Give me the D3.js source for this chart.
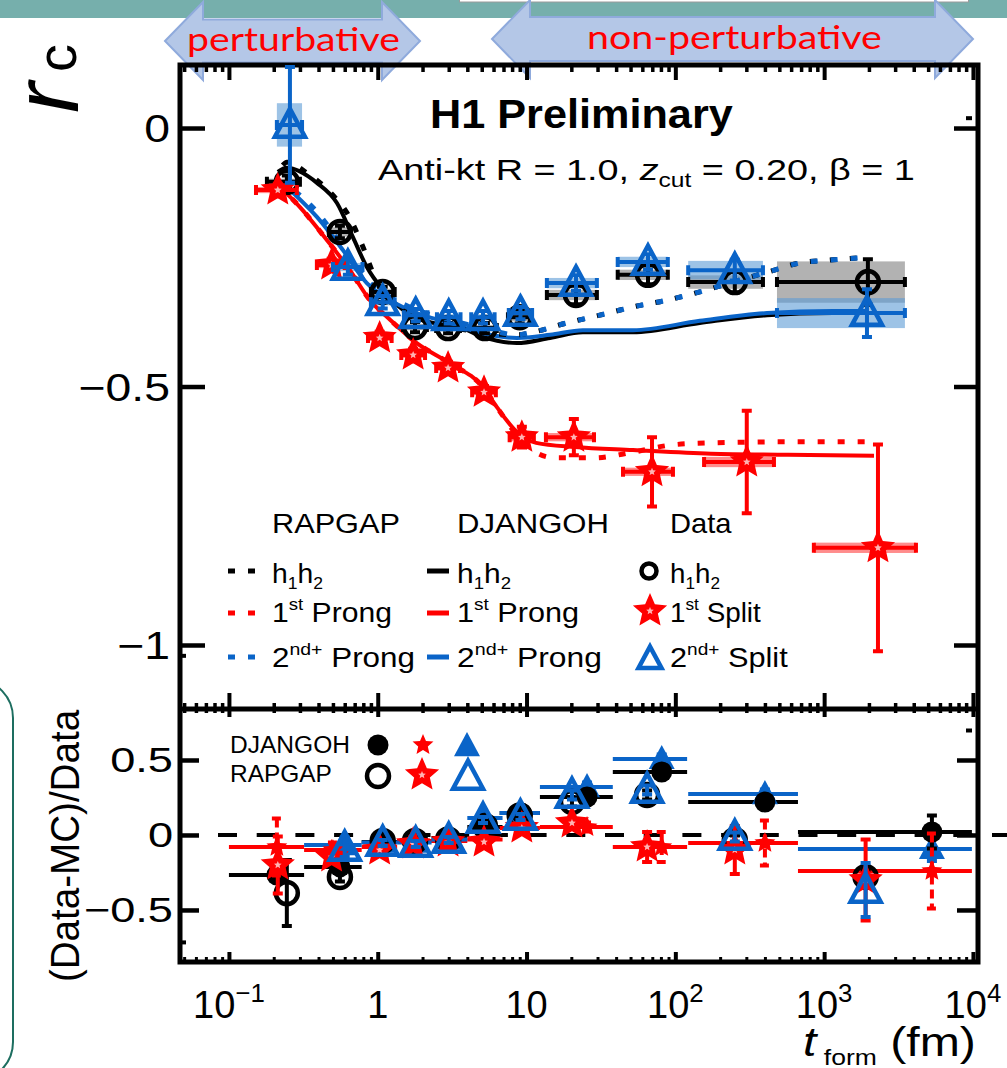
<!DOCTYPE html>
<html>
<head>
<meta charset="utf-8">
<script src="https://cdn.jsdelivr.net/npm/d3@7"></script>
<style>
  body { margin: 0; background: #fff; }
  svg { display: block; }
  text { font-family: "Liberation Sans", Arial, Helvetica, sans-serif; fill: #000; }
</style>
</head>
<body>
<svg id="chart" width="1007" height="1068"></svg>
<script>
// ---------- axis ticks ----------
const tickX = [0.1, 1, 10, 100, 1000, 10000];
const tickXBase = ['10', '1', '10', '10', '10', '10'];
const tickXExp = ['\u22121', '', '', '2', '3', '4'];
const tickYTop = [0, -0.5, -1];
const tickYTopText = ['0', '\u22120.5', '\u22121'];
const tickYBot = [0.5, 0, -0.5];
const tickYBotText = ['0.5', '0', '\u22120.5'];
// stray short ticks seen on the frame
const stubTopL = [-1.02], stubTopR = [0.02], stubBotL = [-0.713], stubBotR = [0.7];

// ---------- top panel: data (r_c vs t_form) ----------
// h1h2
const hT    = [0.245, 0.557, 1.08, 1.78, 2.97, 5.25, 9.0, 21.5, 65.5, 251, 1968];
const hV    = [-0.104, -0.201, -0.317, -0.385, -0.387, -0.387, -0.366, -0.323, -0.284, -0.298, -0.298];
const hLo   = [0.18, 0.47, 0.90, 1.48, 2.47, 4.37, 7.5, 13.7, 41, 122, 482];
const hHi   = [0.30, 0.66, 1.30, 2.14, 3.57, 6.31, 10.8, 29.7, 89, 388, 3490];
const hStat = [0.012, 0.012, 0.01, 0.01, 0.01, 0.01, 0.012, 0.018, 0.018, 0.02, 0.044];
const hSys  = [0.006, 0.009, 0.006, 0.006, 0.006, 0.006, 0.008, 0.01, 0.01, 0.013, 0.04];
// 1st split
const fT    = [0.213, 0.49, 1.03, 1.73, 2.97, 5.18, 9.3, 20.8, 69.7, 302, 2300];
const fV    = [-0.120, -0.265, -0.406, -0.439, -0.464, -0.511, -0.598, -0.598, -0.665, -0.646, -0.812];
const fLo   = [0.152, 0.39, 0.86, 1.44, 2.47, 4.31, 7.7, 13.5, 44.5, 156, 853];
const fHi   = [0.286, 0.60, 1.24, 2.08, 3.57, 6.22, 11.2, 28.4, 96.4, 460, 4140];
const fStat = [0.012, 0.012, 0.012, 0.012, 0.012, 0.012, 0.02, 0.035, 0.067, 0.099, 0.2];
const fSys  = [0.006, 0.006, 0.006, 0.006, 0.006, 0.006, 0.008, 0.008, 0.008, 0.01, 0.01];
// 2nd+ split
const sT    = [0.257, 0.63, 1.08, 1.80, 3.0, 5.1, 9.1, 21.5, 65.5, 251, 1940];
const sV    = [0.006, -0.269, -0.337, -0.362, -0.366, -0.366, -0.358, -0.300, -0.259, -0.275, -0.358];
const sLo   = [0.21, 0.50, 0.90, 1.50, 2.50, 4.25, 7.6, 13.7, 41, 122, 482];
const sHi   = [0.31, 0.79, 1.30, 2.16, 3.6, 6.1, 10.9, 29.7, 89, 388, 3490];
const sStat = [0.112, 0.015, 0.012, 0.012, 0.012, 0.012, 0.012, 0.015, 0.015, 0.02, 0.046];
const sSys  = [0.042, 0.008, 0.006, 0.006, 0.006, 0.006, 0.008, 0.01, 0.01, 0.018, 0.029];

// ---------- top panel: MC curves [t, r_c] ----------
const rapH = [[0.23,-0.072],[0.245,-0.066],[0.334,-0.087],[0.50,-0.130],[0.621,-0.164],[0.796,-0.230],[0.929,-0.280],[1.08,-0.319],[1.83,-0.366],[3.05,-0.385],[5.09,-0.395],[8.61,-0.400],[11.0,-0.395],[18.7,-0.377],[31.1,-0.362],[51.9,-0.346],[87.9,-0.333],[146,-0.317],[244,-0.298],[413,-0.279],[687,-0.261],[1146,-0.255],[1941,-0.250]];
const rap1 = [[0.213,-0.110],[0.300,-0.153],[0.456,-0.217],[0.650,-0.275],[0.887,-0.333],[1.21,-0.371],[1.83,-0.416],[3.05,-0.455],[5.09,-0.501],[6.32,-0.540],[8.61,-0.594],[10.2,-0.617],[15.5,-0.638],[28.4,-0.638],[51.9,-0.627],[94.8,-0.613],[173,-0.609],[571,-0.607],[2032,-0.607]];
const rap2 = [[0.245,-0.110],[0.390,-0.162],[0.583,-0.230],[0.887,-0.300],[1.21,-0.327],[1.83,-0.352],[3.05,-0.371],[5.09,-0.387],[8.61,-0.400],[11.0,-0.395],[18.7,-0.377],[31.1,-0.362],[51.9,-0.346],[87.9,-0.333],[146,-0.317],[244,-0.298],[413,-0.279],[687,-0.261],[1146,-0.255],[1941,-0.250]];
const djH  = [[0.213,-0.085],[0.245,-0.077],[0.390,-0.106],[0.532,-0.145],[0.681,-0.211],[0.845,-0.269],[1.08,-0.313],[1.48,-0.352],[2.35,-0.377],[3.56,-0.385],[5.09,-0.404],[8.61,-0.416],[14.4,-0.406],[23.9,-0.395],[51.9,-0.395],[146,-0.377],[413,-0.362],[1146,-0.358],[1941,-0.358]];
const dj1  = [[0.213,-0.110],[0.300,-0.153],[0.456,-0.217],[0.650,-0.275],[0.887,-0.333],[1.21,-0.371],[1.83,-0.416],[3.05,-0.455],[5.09,-0.501],[6.32,-0.540],[8.61,-0.588],[11.6,-0.609],[21.1,-0.617],[51.9,-0.623],[173,-0.630],[571,-0.632],[2163,-0.634]];
const dj2  = [[0.245,-0.114],[0.390,-0.172],[0.583,-0.236],[0.845,-0.300],[1.21,-0.333],[1.83,-0.358],[3.05,-0.377],[5.09,-0.397],[8.61,-0.406],[14.4,-0.400],[23.9,-0.391],[51.9,-0.391],[146,-0.373],[413,-0.358],[1146,-0.354],[1941,-0.354]];

// ---------- bottom panel: (Data-MC)/Data ----------
const binLo = [0.10, 0.32, 0.78, 1.35, 2.3, 4.0, 6.6, 12.3, 38, 122, 667];
const binHi = [0.32, 0.78, 1.35, 2.3, 4.0, 6.9, 12.3, 38, 120, 667, 9840];
// DJANGOH (filled markers, carry the bin bars)
const djHT = [0.21, 0.557, 1.06, 1.78, 2.97, 5.2, 9.2, 25.5, 81, 400, 5300];
const djHR = [-0.267, -0.213, -0.047, -0.04, -0.02, 0.053, 0.147, 0.253, 0.42, 0.22, 0.02];
const djHE = [0.03, 0.03, 0.02, 0.02, 0.02, 0.02, 0.03, 0.03, 0.03, 0.03, 0.11];
const dj1T = [0.21, 0.5, 1.03, 1.73, 2.97, 5.18, 9.3, 25.5, 81, 400, 5300];
const dj1R = [-0.08, -0.1, -0.08, -0.04, -0.04, -0.03, 0.047, 0.053, -0.08, -0.053, -0.24];
const dj1E = [0.19, 0.05, 0.03, 0.03, 0.03, 0.03, 0.03, 0.03, 0.1, 0.15, 0.25];
const dj2T = [0.6, 1.08, 1.8, 3.0, 5.1, 9.1, 25.5, 81, 400, 5300];
const dj2R = [-0.067, -0.05, -0.05, -0.03, 0.113, 0.147, 0.32, 0.507, 0.273, -0.093];
const dj2E = [0.05, 0.02, 0.02, 0.02, 0.02, 0.02, 0.03, 0.03, 0.03, 0.08];
const dj2Lo = [0.32, 0.78, 1.35, 2.3, 4.0, 6.6, 12.3, 38, 122, 667];
const dj2Hi = [0.78, 1.35, 2.3, 4.0, 6.9, 12.3, 38, 120, 667, 9840];
// RAPGAP (open markers)
const rpHT = [0.245, 0.557, 1.08, 1.78, 2.97, 5.25, 9.0, 20.2, 64.6, 251, 1900];
const rpHR = [-0.387, -0.28, -0.04, -0.04, -0.03, 0.06, 0.13, 0.22, 0.267, -0.033, -0.28];
const rpHE = [0.22, 0.03, 0.02, 0.02, 0.02, 0.02, 0.03, 0.03, 0.03, 0.03, 0.05];
const rp1T = [0.213, 0.49, 1.03, 1.73, 2.97, 5.18, 9.3, 20.2, 64.6, 251, 1900];
const rp1R = [-0.2, -0.147, -0.1, -0.06, -0.047, -0.047, 0.047, 0.08, -0.08, -0.1, -0.3];
const rp1E = [0.19, 0.04, 0.03, 0.03, 0.03, 0.03, 0.03, 0.03, 0.1, 0.16, 0.27];
const rp2T = [0.6, 1.08, 1.8, 3.0, 5.1, 9.1, 20.2, 64.6, 251, 1900];
const rp2R = [-0.087, -0.053, -0.06, -0.033, 0.1, 0.12, 0.267, 0.3, -0.013, -0.367];
const rp2E = [0.06, 0.02, 0.02, 0.02, 0.02, 0.02, 0.03, 0.03, 0.03, 0.18];

// ---------- colours ----------
const BLACK = '#000', RED = '#ff0000', BLUE = '#0a64c8';

// ---------- layout ----------
const L = 180, R = 978, T = 65, MID = 709, B = 962;
const svg = d3.select('#chart');

const x = d3.scaleLog().domain([0.0469, 10814]).range([L, R]);
const yTop = d3.scaleLinear().domain([0.1219, -1.1238]).range([T, MID]);
const yBot = d3.scaleLinear().domain([0.84, -0.847]).range([MID, B]);

// ---------- helpers ----------
function starPath(Ro) {
  const ri = Ro * 0.46;
  let p = '';
  for (let i = 0; i < 10; i++) {
    const a = -Math.PI / 2 + i * Math.PI / 5, rr = i % 2 ? ri : Ro;
    p += (i ? 'L' : 'M') + (rr * Math.cos(a)).toFixed(2) + ',' + (rr * Math.sin(a)).toFixed(2);
  }
  return p + 'Z';
}
function triPath(w) {
  const h = w * 0.93;
  return `M0,${(-h * 0.58).toFixed(2)}L${w / 2},${(h * 0.42).toFixed(2)}L${-w / 2},${(h * 0.42).toFixed(2)}Z`;
}
function marker(g, kind, cx, cy) {
  const m = g.append('g').attr('transform', `translate(${cx},${cy})`);
  if (kind === 'openCircle') m.append('circle').attr('r', 11).style('fill', 'none').style('stroke', BLACK).style('stroke-width', 4.5);
  if (kind === 'fillCircle') m.append('circle').attr('r', 10.5).style('fill', BLACK);
  if (kind === 'bigStar') {
    m.append('path').attr('d', starPath(18)).style('fill', RED);
    m.append('path').attr('d', starPath(4)).style('fill', '#ffb3b3');
  }
  if (kind === 'smallStar') m.append('path').attr('d', starPath(11)).style('fill', RED);
  if (kind === 'openTri') m.append('path').attr('d', triPath(30)).style('fill', 'none').style('stroke', BLUE).style('stroke-width', 4.5).style('stroke-linejoin', 'miter');
  if (kind === 'fillTri') m.append('path').attr('d', triPath(26)).style('fill', BLUE);
  return m;
}
function rich(parent, parts, size, weight) {
  const t = parent.append('text').attr('x', 0).attr('y', 0).style('font-size', size + 'px');
  if (weight) t.style('font-weight', weight);
  let cur = 0;
  parts.forEach(p => {
    const off = p.sup ? -0.42 * size : p.sub ? 0.22 * size : 0;
    const ts = t.append('tspan').attr('dy', off - cur).text(p.s);
    if (p.sup || p.sub) ts.style('font-size', ((p.k || 0.62) * size) + 'px');
    if (p.it) ts.style('font-style', 'italic');
    cur = off;
  });
  return t;
}
// place text: left/right/centre at x, baseline y, optional target width or x-scale
function place(t, xp, yp, w, anchor, sx) {
  const bb = t.node().getBBox();
  const s = w ? w / bb.width : (sx || 1);
  const left = anchor === 'end' ? xp - bb.width * s : anchor === 'middle' ? xp - bb.width * s / 2 : xp;
  t.attr('transform', `translate(${left - bb.x * s},${yp}) scale(${s},1)`);
  return t;
}

// ---------- slide decorations ----------
svg.append('rect').attr('x', 0).attr('y', 0).attr('width', 1007).attr('height', 18).style('fill', '#76afac');
svg.append('rect').attr('x', 459.5).attr('y', -6).attr('width', 509).attr('height', 8)
  .style('fill', '#fff').style('stroke', '#9a9a9a').style('stroke-width', 1);
svg.append('rect').attr('x', -60).attr('y', 680).attr('width', 73).attr('height', 400).attr('rx', 38)
  .style('fill', 'none').style('stroke', '#1d6e60').style('stroke-width', 2);

function arrow(x0, x1, x2, x3, yc, hs, hh) {
  const p = [[x0, yc], [x1, yc - hh], [x1, yc - hs], [x2, yc - hs], [x2, yc - hh], [x3, yc],
             [x2, yc + hh], [x2, yc + hs], [x1, yc + hs], [x1, yc + hh]];
  svg.append('path').attr('d', 'M' + p.map(d => d.join(',')).join('L') + 'Z')
    .style('fill', '#b4c7e7').style('stroke', '#8faadc').style('stroke-width', 2);
}
arrow(165, 203, 382, 420, 41, 21.5, 39);
arrow(492, 530, 935, 973, 39, 22, 39);

// ---------- frame + ticks ----------
const fr = svg.append('g');
const xMinor = x.ticks().filter(v => Math.abs(Math.log10(v) - Math.round(Math.log10(v))) > 1e-6);

function xTicks(yPos, vals, len, sw) {
  const g = fr.append('g').attr('transform', `translate(0,${yPos})`)
    .call(d3.axisBottom(x).tickValues(vals).tickSize(len).tickFormat(''));
  g.select('.domain').remove();
  g.selectAll('line').attr('stroke-width', sw);
}
function yTicks(scale, xPos, vals, len, sw) {
  const g = fr.append('g').attr('transform', `translate(${xPos},0)`)
    .call(d3.axisRight(scale).tickValues(vals).tickSize(len).tickFormat(''));
  g.select('.domain').remove();
  g.selectAll('line').attr('stroke-width', sw);
}
xTicks(T, tickX, 15, 4);  xTicks(T, xMinor, 7, 3.5);
xTicks(MID, tickX, -16, 4); xTicks(MID, tickX, 8, 4);
xTicks(MID, xMinor, -6, 3.5); xTicks(MID, xMinor, 4, 3.5);
xTicks(B, tickX, -10, 4); xTicks(B, xMinor, -5, 3);
yTicks(yTop, L, tickYTop, 25, 4.5);
yTicks(yTop, R, tickYTop, -24, 4.5);
yTicks(yBot, L, tickYBot, 19, 4.5);
yTicks(yBot, R, tickYBot, -21, 4.5);
yTicks(yTop, L, stubTopL, 6, 4);
yTicks(yTop, R - 6, stubTopR, -6, 4);
yTicks(yBot, L, stubBotL, 6, 4);
yTicks(yBot, R - 6, stubBotR, -6, 4);

fr.append('path').attr('d', `M${L},${T}H${R}V${B}H${L}Z M${L},${MID}H${R}`)
  .style('fill', 'none').style('stroke', '#000').style('stroke-width', 5);

// ---------- tick labels ----------
tickX.forEach((v, i) => {
  const parts = [{ s: tickXBase[i] }];
  if (tickXExp[i]) parts.push({ s: tickXExp[i], sup: true, k: 0.68 });
  place(rich(svg, parts, 38), x(v), 1018, null, 'middle', 1);
});
tickYTop.forEach((v, i) => place(rich(svg, [{ s: tickYTopText[i] }], 38), 170, yTop(v) + 14, null, 'end', 1.22));
tickYBot.forEach((v, i) => place(rich(svg, [{ s: tickYBotText[i] }], 35), 173, yBot(v) + 12.5, null, 'end', 1.29));

// axis titles
rich(svg, [{ s: 'r', it: true }], 92).attr('transform', 'translate(78,113) rotate(-90)');
rich(svg, [{ s: 'c' }], 56).attr('transform', 'translate(76,72) rotate(-90)');
{
  const t = rich(svg, [{ s: '(Data-MC)/Data' }], 40).attr('text-anchor', 'middle');
  const w = t.node().getBBox().width;
  t.attr('transform', `translate(79,846) rotate(-90) scale(${273 / w},1)`);
}
place(rich(svg, [{ s: 't', it: true }, { s: ' form', sub: true, k: 0.55 }, { s: ' (fm)' }], 40), 803, 1056, 173, 'start');

// ---------- top panel content ----------
const topG = svg.append('g');
function sysBoxes(g, t, v, lo, hi, sys, fill, op) {
  g.selectAll(null).data(t).enter().append('rect')
    .attr('x', (d, i) => x(lo[i])).attr('width', (d, i) => x(hi[i]) - x(lo[i]))
    .attr('y', (d, i) => yTop(v[i] + sys[i])).attr('height', (d, i) => yTop(v[i] - sys[i]) - yTop(v[i] + sys[i]))
    .style('fill', fill).style('fill-opacity', op);
}
sysBoxes(topG, hT, hV, hLo, hHi, hSys, '#000', 0.3);
sysBoxes(topG, fT, fV, fLo, fHi, fSys, RED, 0.45);
sysBoxes(topG, sT, sV, sLo, sHi, sSys, '#5b9bd5', 0.6);

function curve(g, pts, color, dotted, offset) {
  const line = d3.line().x(d => x(d[0])).y(d => yTop(d[1])).curve(d3.curveMonotoneX);
  const p = g.append('path').attr('d', line(pts)).style('fill', 'none').style('stroke', color);
  if (dotted) p.style('stroke-width', 5).style('stroke-dasharray', '7,13').style('stroke-dashoffset', offset || 0);
  else p.style('stroke-width', 4);
}
curve(topG, djH, BLACK, false);
curve(topG, dj2, BLUE, false);
curve(topG, dj1, RED, false);
curve(topG, rapH, BLACK, true, 0);
curve(topG, rap2, BLUE, true, 10);
curve(topG, rap1, RED, true, 0);

function errBars(g, xs, ys, lo, hi, e, color, ysc, dash) {
  xs.forEach((t, i) => {
    const cx = x(t), cy = ysc(ys[i]);
    if (lo) {
      const a = x(lo[i]), b = x(hi[i]);
      g.append('path').attr('d', `M${a},${cy}H${b}M${a},${cy - 5}V${cy + 5}M${b},${cy - 5}V${cy + 5}`)
        .style('stroke', color).style('stroke-width', 4).style('fill', 'none');
    }
    if (e) {
      const u = ysc(ys[i] + e[i]), d = ysc(ys[i] - e[i]);
      const p = g.append('path').attr('d', `M${cx},${u}V${d}M${cx - 5},${u}H${cx + 5}M${cx - 5},${d}H${cx + 5}`)
        .style('stroke', color).style('stroke-width', 4).style('fill', 'none');
      if (dash) p.style('stroke-dasharray', dash);
    }
  });
}
errBars(topG, hT, hV, hLo, hHi, hStat, BLACK, yTop);
hT.forEach((t, i) => marker(topG, 'openCircle', x(t), yTop(hV[i])));
errBars(topG, fT, fV, fLo, fHi, fStat, RED, yTop);
fT.forEach((t, i) => marker(topG, 'bigStar', x(t), yTop(fV[i])));
errBars(topG, sT, sV, sLo, sHi, sStat, BLUE, yTop);
sT.forEach((t, i) => marker(topG, 'openTri', x(t), yTop(sV[i])));

// labels
place(rich(svg, [{ s: 'H1 Preliminary' }], 41, 'bold'), 430, 128, 303, 'start');
place(rich(svg, [{ s: 'Anti-kt R = 1.0, ' }, { s: 'z', it: true }, { s: 'cut', sub: true, k: 0.65 }, { s: ' = 0.20, \u03b2 = 1' }], 30), 378, 180, 537, 'start');

// legend (top)
const lg = svg.append('g');
place(rich(lg, [{ s: 'RAPGAP' }], 28), 272, 533, 128, 'start');
place(rich(lg, [{ s: 'DJANGOH' }], 28), 457, 533, 152, 'start');
place(rich(lg, [{ s: 'Data' }], 28), 670, 533, 62, 'start');
const rowY = [571, 613, 657];
const rowBase = [583, 622, 667];
const rowColor = [BLACK, RED, BLUE];
const hh = [{ s: 'h' }, { s: '1', sub: true }, { s: 'h' }, { s: '2', sub: true }];
const pr1 = [{ s: '1' }, { s: 'st', sup: true }, { s: ' Prong' }];
const pr2 = [{ s: '2' }, { s: 'nd+', sup: true }, { s: ' Prong' }];
const sp1 = [{ s: '1' }, { s: 'st', sup: true }, { s: ' Split' }];
const sp2 = [{ s: '2' }, { s: 'nd+', sup: true }, { s: ' Split' }];
const col1 = [[hh, 51], [pr1, 120], [pr2, 143]];
const col2 = [[hh, 54], [pr1, 122], [pr2, 145]];
const col3 = [[hh, 50], [sp1, 91], [sp2, 118]];
rowY.forEach((yy, i) => {
  lg.append('line').attr('x1', 228).attr('x2', 255).attr('y1', yy).attr('y2', yy)
    .style('stroke', rowColor[i]).style('stroke-width', 5).style('stroke-dasharray', '7,13');
  lg.append('line').attr('x1', 427).attr('x2', 449).attr('y1', yy).attr('y2', yy)
    .style('stroke', rowColor[i]).style('stroke-width', 5);
  place(rich(lg, col1[i][0], 28), 272, rowBase[i], col1[i][1], 'start');
  place(rich(lg, col2[i][0], 28), 457, rowBase[i], col2[i][1], 'start');
  place(rich(lg, col3[i][0], 28), 670, rowBase[i], col3[i][1], 'start');
});
lg.append('circle').attr('cx', 649).attr('cy', 571).attr('r', 7.5).style('fill', 'none').style('stroke', BLACK).style('stroke-width', 4.5);
marker(lg, 'bigStar', 650, 611);
lg.append('path').attr('transform', 'translate(650,659)').attr('d', triPath(23))
  .style('fill', 'none').style('stroke', BLUE).style('stroke-width', 4.5);

// ---------- bottom panel content ----------
const bot = svg.append('g');
bot.append('line').attr('x1', 218).attr('x2', 1007).attr('y1', yBot(0)).attr('y2', yBot(0))
  .style('stroke', '#000').style('stroke-width', 4).style('stroke-dasharray', '19,19.7');

function hBars(g, lo, hi, r, color) {
  lo.forEach((a, i) => g.append('line').attr('x1', x(a)).attr('x2', x(hi[i]))
    .attr('y1', yBot(r[i])).attr('y2', yBot(r[i])).style('stroke', color).style('stroke-width', 4));
}
hBars(bot, binLo, binHi, djHR, BLACK);
hBars(bot, binLo, binHi, dj1R, RED);
hBars(bot, dj2Lo, dj2Hi, dj2R, BLUE);

// DJANGOH filled markers first, RAPGAP open markers on top
errBars(bot, dj2T, dj2R, null, null, dj2E, BLUE, yBot);
dj2T.forEach((t, i) => marker(bot, 'fillTri', x(t), yBot(dj2R[i])));
errBars(bot, djHT, djHR, null, null, djHE, BLACK, yBot);
djHT.forEach((t, i) => marker(bot, 'fillCircle', x(t), yBot(djHR[i])));
errBars(bot, dj1T, dj1R, null, null, dj1E, RED, yBot, '9,5');
dj1T.forEach((t, i) => marker(bot, 'smallStar', x(t), yBot(dj1R[i])));
errBars(bot, rpHT, rpHR, null, null, rpHE, BLACK, yBot);
rpHT.forEach((t, i) => marker(bot, 'openCircle', x(t), yBot(rpHR[i])));
errBars(bot, rp1T, rp1R, null, null, rp1E, RED, yBot);
rp1T.forEach((t, i) => marker(bot, 'bigStar', x(t), yBot(rp1R[i])));
errBars(bot, rp2T, rp2R, null, null, rp2E, BLUE, yBot);
rp2T.forEach((t, i) => marker(bot, 'openTri', x(t), yBot(rp2R[i])));

// legend (bottom)
place(rich(svg, [{ s: 'DJANGOH' }], 24.5), 230, 753, 120, 'start');
place(rich(svg, [{ s: 'RAPGAP' }], 24.5), 230, 782, 102, 'start');
marker(svg, 'fillCircle', 378, 745);
marker(svg, 'smallStar', 423, 745);
marker(svg, 'fillTri', 467, 746);
marker(svg, 'openCircle', 378, 776);
marker(svg, 'bigStar', 422, 775);
marker(svg, 'openTri', 468, 777);

// ---------- arrow captions ----------
const cap = svg.append('g');
place(rich(cap, [{ s: 'perturbative' }], 33).style('font-family', 'Lato, "Open Sans", sans-serif').style('fill', RED), 187, 51, 213, 'start');
place(rich(cap, [{ s: 'non-perturbative' }], 33).style('font-family', 'Lato, "Open Sans", sans-serif').style('fill', RED), 587, 49, 295, 'start');
</script>
</body>
</html>
